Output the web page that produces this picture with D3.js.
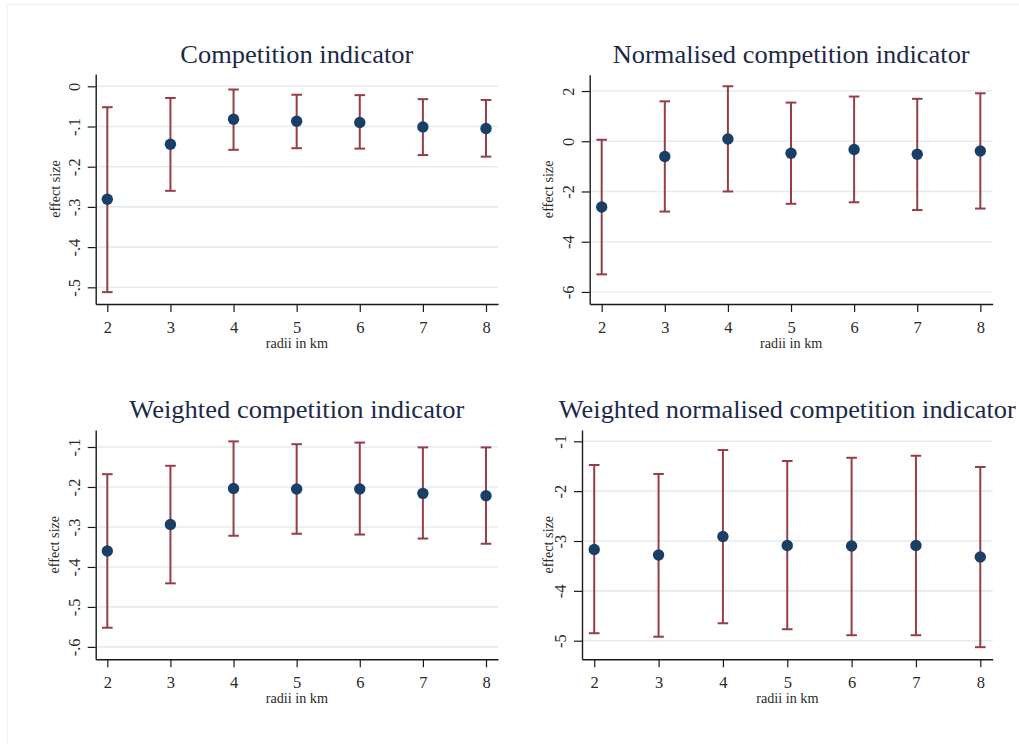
<!DOCTYPE html>
<html>
<head>
<meta charset="utf-8">
<script src="https://cdn.jsdelivr.net/npm/d3@7"></script>
<style>
  html, body { margin: 0; padding: 0; background: #fff; }
  svg { display: block; }
  text { font-family: "Liberation Serif", "DejaVu Serif", serif; }
</style>
</head>
<body>
<svg id="chart" width="1019" height="744"></svg>
<script>
// ---------------- data ----------------
const radii = [2, 3, 4, 5, 6, 7, 8];

const ciEst = [-0.281, -0.144, -0.082, -0.087, -0.090, -0.101, -0.105];
const ciLo  = [-0.512, -0.260, -0.158, -0.154, -0.155, -0.171, -0.175];
const ciHi  = [-0.052, -0.029, -0.008, -0.021, -0.022, -0.032, -0.034];

const nciEst = [-2.62, -0.61, 0.09, -0.48, -0.33, -0.52, -0.39];
const nciLo  = [-5.30, -2.80, -2.00, -2.49, -2.43, -2.74, -2.68];
const nciHi  = [0.06, 1.59, 2.19, 1.54, 1.78, 1.69, 1.91];

const wciEst = [-0.360, -0.294, -0.204, -0.205, -0.205, -0.216, -0.222];
const wciLo  = [-0.552, -0.441, -0.322, -0.317, -0.319, -0.329, -0.342];
const wciHi  = [-0.168, -0.147, -0.086, -0.093, -0.089, -0.101, -0.101];

const wnciEst = [-3.17, -3.28, -2.91, -3.09, -3.10, -3.09, -3.32];
const wnciLo  = [-4.85, -4.92, -4.65, -4.77, -4.89, -4.89, -5.13];
const wnciHi  = [-1.475, -1.655, -1.175, -1.395, -1.33, -1.29, -1.515];

const ciTicks = [0, -0.1, -0.2, -0.3, -0.4, -0.5];
const ciTickLabels = ["0", "-.1", "-.2", "-.3", "-.4", "-.5"];
const nciTicks = [2, 0, -2, -4, -6];
const nciTickLabels = ["2", "0", "-2", "-4", "-6"];
const wciTicks = [-0.1, -0.2, -0.3, -0.4, -0.5, -0.6];
const wciTickLabels = ["-.1", "-.2", "-.3", "-.4", "-.5", "-.6"];
const wnciTicks = [-1, -2, -3, -4, -5];
const wnciTickLabels = ["-1", "-2", "-3", "-4", "-5"];

const xTicks = [2, 3, 4, 5, 6, 7, 8];
const xTickLabels = ["2", "3", "4", "5", "6", "7", "8"];

const titles = ["Competition indicator", "Normalised competition indicator",
                "Weighted competition indicator", "Weighted normalised competition indicator"];
const xTitle = "radii in km";
const yTitle = "effect size";

// ---------------- layout (positions/styles only) ----------------
const panels = [
  { title: titles[0], est: ciEst, lo: ciLo, hi: ciHi, ticks: ciTicks, tickLabels: ciTickLabels,
    left: 95.7, right: 498, top: 74, bottom: 304, xDom: [1.816, 8.19], yDom: [-0.5415, 0.0306],
    titleY: 63.3, titleLen: 233, yTitleOff: 36.2 },
  { title: titles[1], est: nciEst, lo: nciLo, hi: nciHi, ticks: nciTicks, tickLabels: nciTickLabels,
    left: 589.7, right: 992.7, top: 74.7, bottom: 304, xDom: [1.81, 8.196], yDom: [-6.48, 2.65],
    titleY: 63.3, titleLen: 357, yTitleOff: 36.4 },
  { title: titles[2], est: wciEst, lo: wciLo, hi: wciHi, ticks: wciTicks, tickLabels: wciTickLabels,
    left: 95.7, right: 498, top: 430, bottom: 659.3, xDom: [1.816, 8.19], yDom: [-0.631, -0.0575],
    titleY: 417.7, titleLen: 335, yTitleOff: 36.4 },
  { title: titles[3], est: wnciEst, lo: wnciLo, hi: wnciHi, ticks: wnciTicks, tickLabels: wnciTickLabels,
    left: 582, right: 992.7, top: 430, bottom: 659.3, xDom: [1.81, 8.193], yDom: [-5.373, -0.773],
    titleY: 417.7, titleLen: 457, yTitleOff: 28.7 }
];

const C = {
  title: "#1c2a48", text: "#2a2a2a", axis: "#1a1a1a", grid: "#e3edf0",
  bar: "#963d47", dot: "#1a3f66", frame: "#eeeeee"
};

const svg = d3.select("#chart");

// faint page frame and cut-off caption fragment
svg.append("path")
  .attr("d", "M7,744 L7,4.5 L1019,4.5")
  .attr("fill", "none").attr("stroke", C.frame).attr("stroke-width", 1);
svg.append("text").attr("x", 75).attr("y", -4).attr("text-anchor", "middle")
  .attr("font-size", 16).attr("fill", C.text).text("g");

panels.forEach(p => {
  const g = svg.append("g");
  const x = d3.scaleLinear().domain(p.xDom).range([p.left, p.right]);
  const y = d3.scaleLinear().domain(p.yDom).range([p.bottom, p.top]);

  // gridlines
  g.append("g").selectAll("line").data(p.ticks).join("line")
    .attr("x1", p.left).attr("x2", p.right)
    .attr("y1", d => y(d)).attr("y2", d => y(d))
    .attr("stroke", C.grid).attr("stroke-width", 1.6);

  // y axis
  const yAxis = d3.axisLeft(y).tickValues(p.ticks).tickSize(8).tickSizeOuter(0)
    .tickFormat((d, i) => p.tickLabels[i]);
  const ya = g.append("g").attr("transform", `translate(${p.left},0)`).call(yAxis);
  ya.select(".domain").attr("stroke", C.axis).attr("stroke-width", 1.4);
  ya.selectAll(".tick line").attr("stroke", C.axis).attr("stroke-width", 1.2);
  ya.selectAll(".tick text")
    .attr("transform", "rotate(-90)")
    .attr("x", 0).attr("y", -16.2).attr("dy", 0)
    .attr("text-anchor", "middle")
    .attr("font-size", 16.5).attr("fill", C.text)
    .style("font-family", '"Liberation Serif", serif');

  // x axis
  const xAxis = d3.axisBottom(x).tickValues(xTicks).tickSize(8).tickSizeOuter(0)
    .tickFormat((d, i) => xTickLabels[i]);
  const xa = g.append("g").attr("transform", `translate(0,${p.bottom})`).call(xAxis);
  xa.select(".domain").attr("stroke", C.axis).attr("stroke-width", 1.4);
  xa.selectAll(".tick line").attr("stroke", C.axis).attr("stroke-width", 1.2);
  xa.selectAll(".tick text")
    .attr("y", 28.6).attr("dy", 0)
    .attr("font-size", 16.5).attr("fill", C.text)
    .style("font-family", '"Liberation Serif", serif');

  // axis titles
  g.append("text")
    .attr("x", (p.left + p.right) / 2).attr("y", p.bottom + 44)
    .attr("text-anchor", "middle").attr("font-size", 14.2).attr("fill", C.text)
    .text(xTitle);
  g.append("text")
    .attr("transform", `translate(${p.left - p.yTitleOff},${(p.top + p.bottom) / 2}) rotate(-90)`)
    .attr("text-anchor", "middle").attr("font-size", 14.2).attr("fill", C.text)
    .text(yTitle);

  // panel title
  g.append("text")
    .attr("x", (p.left + p.right) / 2).attr("y", p.titleY)
    .attr("text-anchor", "middle").attr("font-size", 25.5).attr("fill", C.title)
    .attr("textLength", p.titleLen).attr("lengthAdjust", "spacingAndGlyphs")
    .text(p.title);

  // error bars
  const rows = radii.map((r, i) => ({ r, est: p.est[i], lo: p.lo[i], hi: p.hi[i] }));
  const eb = g.append("g").attr("stroke", C.bar).attr("stroke-width", 2).attr("fill", "none");
  eb.selectAll("line.v").data(rows).join("line").attr("class", "v")
    .attr("x1", d => x(d.r)).attr("x2", d => x(d.r))
    .attr("y1", d => y(d.lo)).attr("y2", d => y(d.hi));
  eb.selectAll("line.capHi").data(rows).join("line").attr("class", "capHi")
    .attr("x1", d => x(d.r) - 5.3).attr("x2", d => x(d.r) + 5.3)
    .attr("y1", d => y(d.hi)).attr("y2", d => y(d.hi));
  eb.selectAll("line.capLo").data(rows).join("line").attr("class", "capLo")
    .attr("x1", d => x(d.r) - 5.3).attr("x2", d => x(d.r) + 5.3)
    .attr("y1", d => y(d.lo)).attr("y2", d => y(d.lo));

  // point estimates
  g.append("g").selectAll("circle").data(rows).join("circle")
    .attr("cx", d => x(d.r)).attr("cy", d => y(d.est))
    .attr("r", 5.7).attr("fill", C.dot);
});
</script>
</body>
</html>
